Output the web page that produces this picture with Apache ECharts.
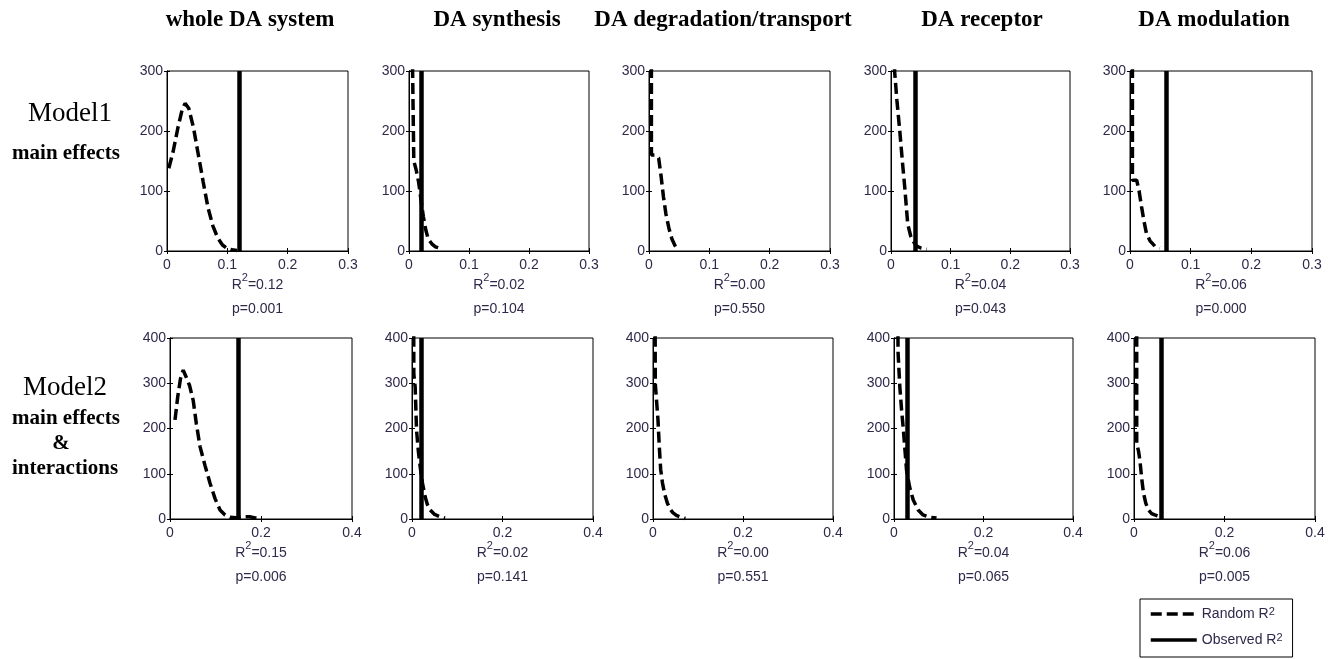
<!DOCTYPE html>
<html>
<head>
<meta charset="utf-8">
<script src="https://cdn.jsdelivr.net/npm/echarts@6/dist/echarts.min.js"></script>
<style>
html, body { margin: 0; padding: 0; background: #fff; }
#chart { width: 1332px; height: 659px; }
</style>
</head>
<body>
<div id="chart"></div>
<script>
// column headers
var columnTitles = ['whole DA system', 'DA synthesis', 'DA degradation/transport', 'DA receptor', 'DA modulation'];

// Model1 (main effects): random R2 distributions, [R2, count]
var m1Whole = [[0.003,138],[0.01,165],[0.018,205],[0.025,235],[0.03,246],[0.036,238],[0.044,205],[0.052,160],[0.06,115],[0.068,72],[0.076,42],[0.084,22],[0.092,10],[0.1,4],[0.108,2],[0.116,1]];
var m1Synth = [[0.005,600],[0.006,300],[0.008,150],[0.012,135],[0.016,115],[0.02,85],[0.024,57],[0.028,35],[0.032,20],[0.038,12],[0.044,7],[0.05,5]];
var m1Degr = [[0.004,600],[0.004,160],[0.01,160],[0.016,155],[0.02,125],[0.024,90],[0.028,62],[0.033,38],[0.038,20],[0.043,9],[0.048,2]];
var m1Recep = [[0.004,600],[0.006,300],[0.01,250],[0.015,197],[0.019,150],[0.023,107],[0.028,45],[0.033,25],[0.038,15],[0.043,8],[0.05,5],[0.06,3]];
var m1Modul = [[0.004,600],[0.004,118],[0.011,118],[0.015,100],[0.019,74],[0.023,50],[0.027,30],[0.033,17],[0.041,8],[0.049,5]];

// Model2 (main effects & interactions)
var m2Whole = [[0.011,219],[0.017,270],[0.023,310],[0.029,329],[0.035,315],[0.043,295],[0.051,262],[0.058,210],[0.066,160],[0.077,118],[0.088,79],[0.099,45],[0.11,20],[0.121,9],[0.132,4],[0.145,3],[0.16,5],[0.175,5],[0.19,2]];
var m2Synth = [[0.003,900],[0.004,320],[0.007,292],[0.01,197],[0.014,150],[0.018,116],[0.023,80],[0.029,49],[0.034,32],[0.04,20],[0.05,10],[0.062,5],[0.073,2]];
var m2Degr = [[0.004,900],[0.005,300],[0.008,260],[0.011,220],[0.014,160],[0.017,110],[0.021,80],[0.026,55],[0.032,35],[0.038,22],[0.044,14],[0.052,8],[0.062,4],[0.072,1]];
var m2Recep = [[0.007,900],[0.009,370],[0.013,292],[0.017,240],[0.021,197],[0.028,108],[0.035,70],[0.043,42],[0.054,20],[0.065,9],[0.08,4],[0.095,2]];
var m2Modul = [[0.006,900],[0.006,167],[0.01,150],[0.013,130],[0.017,90],[0.021,57],[0.026,35],[0.032,20],[0.039,12],[0.046,9],[0.052,7]];

// observed R2 (vertical lines), null = not visible
var m1Observed = [0.117, 0.02, null, 0.036, 0.056];
var m2Observed = [0.152, 0.019, null, 0.032, 0.057];

// annotation under each panel
var m1R2 = ['0.12', '0.02', '0.00', '0.04', '0.06'];
var m1P = ['0.001', '0.104', '0.550', '0.043', '0.000'];
var m2R2 = ['0.15', '0.02', '0.00', '0.04', '0.06'];
var m2P = ['0.006', '0.141', '0.551', '0.065', '0.005'];

// axis ranges
var m1XMax = 0.3, m1XStep = 0.1, m1YMax = 300, m1YStep = 100;
var m2XMax = 0.4, m2XStep = 0.2, m2YMax = 400, m2YStep = 100;

var rows = [
    { random: [m1Whole, m1Synth, m1Degr, m1Recep, m1Modul], observed: m1Observed, r2: m1R2, p: m1P,
      xMax: m1XMax, xStep: m1XStep, yMax: m1YMax, yStep: m1YStep,
      lefts: [167, 409, 649, 891, 1130], widths: [181, 180, 181, 179, 182], top: 71, height: 180 },
    { random: [m2Whole, m2Synth, m2Degr, m2Recep, m2Modul], observed: m2Observed, r2: m2R2, p: m2P,
      xMax: m2XMax, xStep: m2XStep, yMax: m2YMax, yStep: m2YStep,
      lefts: [170, 412, 653, 894, 1134], widths: [182, 181, 180, 179, 181], top: 338, height: 181 }
];

var labelColor = '#30284a';
var sans = '"Liberation Sans", Arial, sans-serif';
var serif = '"Liberation Serif", "Times New Roman", serif';
var supStyle = { fontSize: 11, lineHeight: 18, verticalAlign: 'top', color: labelColor, fontFamily: sans };

var grids = [], xAxes = [], yAxes = [], series = [];

rows.forEach(function (row) {
    for (var c = 0; c < 5; c++) {
        var g = grids.length;
        grids.push({ left: row.lefts[c], top: row.top, width: row.widths[c], height: row.height,
            show: true, borderColor: '#000', borderWidth: 1, backgroundColor: '#fff' });

        var tick = { show: true, inside: true, length: 3, lineStyle: { color: '#000', width: 1 } };
        var line = { show: true, lineStyle: { color: '#000', width: 1 } };

        xAxes.push({
            type: 'value', gridIndex: g, position: 'bottom', min: 0, max: row.xMax, interval: row.xStep,
            axisLine: line, axisTick: tick, splitLine: { show: false },
            axisLabel: { fontSize: 14, color: labelColor, fontFamily: sans, margin: 7 },
            name: 'R{sup|2}=' + row.r2[c] + '\np=' + row.p[c],
            nameLocation: 'middle', nameGap: 20,
            nameTextStyle: { fontSize: 14, lineHeight: 24, color: labelColor, fontFamily: sans,
                rich: { sup: supStyle } }
        });
        xAxes.push({
            type: 'value', gridIndex: g, position: 'top', min: 0, max: row.xMax, interval: row.xStep,
            axisLine: line, axisTick: tick, axisLabel: { show: false }, splitLine: { show: false }
        });
        yAxes.push({
            type: 'value', gridIndex: g, position: 'left', min: 0, max: row.yMax, interval: row.yStep,
            axisLine: line, axisTick: tick, splitLine: { show: false },
            axisLabel: { fontSize: 14, color: labelColor, fontFamily: sans, margin: 4 }
        });
        yAxes.push({
            type: 'value', gridIndex: g, position: 'right', min: 0, max: row.yMax, interval: row.yStep,
            axisLine: line, axisTick: tick, axisLabel: { show: false }, splitLine: { show: false }
        });

        series.push({
            name: 'Random R2', type: 'line', xAxisIndex: g * 2, yAxisIndex: g * 2,
            data: row.random[c], symbol: 'none', clip: true, silent: true, color: '#000',
            lineStyle: { color: '#000', width: 3.5, type: [11, 5], cap: 'butt' }
        });
        var obs = row.observed[c];
        series.push({
            name: 'Observed R2', type: 'line', xAxisIndex: g * 2, yAxisIndex: g * 2,
            data: [], symbol: 'none', silent: true, color: '#000',
            lineStyle: { color: '#000', width: 4, type: 'solid' },
            markLine: obs === null ? undefined : {
                silent: true, symbol: 'none', animation: false,
                label: { show: false },
                lineStyle: { color: '#000', width: 4.5, type: 'solid' },
                data: [{ xAxis: obs }]
            }
        });
    }
});

var titleCenters = [250, 497, 723, 982, 1214];
var graphics = columnTitles.map(function (t, i) {
    return { type: 'text', x: titleCenters[i], y: 20,
        style: { text: t, textAlign: 'center', textVerticalAlign: 'middle',
            font: 'bold 23px ' + serif, fill: '#000' } };
});
// row labels
var rowLabels = [
    { text: 'Model1', x: 70, y: 114, font: '27px ' + serif },
    { text: 'main effects', x: 66, y: 154, font: 'bold 21px ' + serif },
    { text: 'Model2', x: 65, y: 388, font: '27px ' + serif },
    { text: 'main effects', x: 66, y: 419, font: 'bold 21px ' + serif },
    { text: '&', x: 61, y: 444, font: 'bold 21px ' + serif },
    { text: 'interactions', x: 65, y: 469, font: 'bold 21px ' + serif }
];
rowLabels.forEach(function (r) {
    graphics.push({ type: 'text', x: r.x, y: r.y,
        style: { text: r.text, textAlign: 'center', textVerticalAlign: 'middle', font: r.font, fill: '#000' } });
});

var chart = echarts.init(document.getElementById('chart'));
chart.setOption({
    animation: false,
    backgroundColor: '#fff',
    grid: grids,
    xAxis: xAxes,
    yAxis: yAxes,
    series: series,
    graphic: graphics,
    legend: {
        data: ['Random R2', 'Observed R2'],
        orient: 'vertical', left: 1140, top: 599, height: 44,
        borderColor: '#000', borderWidth: 1, backgroundColor: '#fff',
        padding: [7, 10, 9, 9], itemGap: 10, itemWidth: 46, itemHeight: 14,
        selectedMode: false,
        itemStyle: { opacity: 0 },
        lineStyle: { width: 3.5 },
        formatter: function (name) { return name.slice(0, -1) + '{sup|2}'; },
        textStyle: { fontSize: 14, lineHeight: 16, color: labelColor, fontFamily: sans,
            rich: { sup: { fontSize: 11, lineHeight: 12, verticalAlign: 'top', color: labelColor, fontFamily: sans } } }
    }
});
</script>
</body>
</html>
